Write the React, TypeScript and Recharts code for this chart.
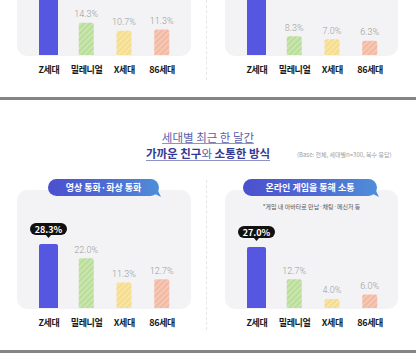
import React from "react";
import { BarChart, Bar, XAxis, YAxis, LabelList } from "recharts";

const generations = ["Z세대", "밀레니얼", "X세대", "86세대"];
// top row: the Z bars run off the top of the picture, their values are guesses
const topLeftValues = [36.0, 14.3, 10.7, 11.3];
const topRightValues = [30.0, 8.3, 7.0, 6.3];
const videoCallValues = [28.3, 22.0, 11.3, 12.7];
const onlineGameValues = [27.0, 12.7, 4.0, 6.0];

const barFills = ["#5557e0", "url(#stripe-green)", "url(#stripe-yellow)", "url(#stripe-salmon)"];

const FONT = '"Noto Sans CJK KR", "Noto Sans", sans-serif';
const CHART_W = 208;
const CHART_H = 170;
const PLOT_BOTTOM = 138; // margin.top + plot height inside the chart

const toRows = (values: number[]) => generations.map((name, i) => ({ name, value: values[i] }));

function BarShape(props: any) {
  const { x, y, width, height, index } = props;
  const w = index === 0 ? 19 : width;
  const nx = x + (width - w) / 2;
  const r = Math.min(2, height);
  const d = `M${nx},${y + height} L${nx},${y + r} Q${nx},${y} ${nx + r},${y} L${nx + w - r},${y} Q${nx + w},${y} ${nx + w},${y + r} L${nx + w},${y + height} Z`;
  return <path d={d} fill={barFills[index]} />;
}

function ValueLabel(props: any) {
  const { x, y, width, value, index, cropped } = props;
  const cx = x + width / 2;
  const text = `${Number(value).toFixed(1)}%`;
  if (index === 0) {
    // the Z bubble of the cropped top row lies above the picture
    if (cropped) return null;
    return (
      <g>
        <rect x={cx - 18.5} y={y - 21} width={37} height={12} rx={6} fill="#111" />
        <polygon points={`${cx - 3},${y - 9.5} ${cx + 3},${y - 9.5} ${cx},${y - 6}`} fill="#111" />
        <text x={cx} y={y - 14.6} textAnchor="middle" dominantBaseline="central" fontSize={9} fontWeight={700} fill="#fff" fontFamily={FONT}>
          {text}
        </text>
      </g>
    );
  }
  return (
    <text x={cx} y={y - 8.5} textAnchor="middle" dominantBaseline="central" fontSize={9} fontWeight={300} fill="#9a9a9a" fontFamily='Roboto, "Noto Sans", sans-serif'>
      {text}
    </text>
  );
}

function GenTick(props: any) {
  const { x, y, payload } = props;
  return (
    <text x={x} y={y + 14.5} textAnchor="middle" dominantBaseline="central" fontSize={9} fontWeight={700} letterSpacing={-0.4} fill="#1a1a1a" fontFamily={FONT}>
      {payload.value}
    </text>
  );
}

function GenChart({ values, left, top, cropped = false }: { values: number[]; left: number; top: number; cropped?: boolean }) {
  return (
    <div style={{ position: "absolute", left, top, width: CHART_W, height: CHART_H }}>
      <BarChart width={CHART_W} height={CHART_H} data={toRows(values)} margin={{ top: 25, right: 27, bottom: 12, left: 30 }}>
        <XAxis dataKey="name" height={20} axisLine={false} tickLine={false} tickSize={0} tickMargin={0} interval={0} tick={<GenTick />} />
        <YAxis hide domain={[0, 50]} />
        <Bar dataKey="value" barSize={15} shape={<BarShape />} isAnimationActive={false}>
          <LabelList dataKey="value" content={<ValueLabel cropped={cropped} />} />
        </Bar>
      </BarChart>
    </div>
  );
}

function Panel({ left, top, width, height }: { left: number; top: number; width: number; height: number }) {
  return <div style={{ position: "absolute", left, top, width, height, background: "#f3f3f5", borderRadius: 10 }} />;
}

function Pill({ left, width, label }: { left: number; width: number; label: string }) {
  return (
    <>
      <div
        style={{
          position: "absolute",
          left: left + width - 10,
          top: 187,
          width: 12,
          height: 10,
          background: "#4f8ed8",
          clipPath: "polygon(0 0, 60% 0, 100% 100%, 0 40%)",
        }}
      />
      <div
        style={{
          position: "absolute",
          left,
          top: 179,
          width,
          height: 17,
          borderRadius: 9,
          background: "linear-gradient(90deg, #4b50cf 0%, #4e6fd4 60%, #4f8ed8 100%)",
          color: "#fff",
          fontSize: 9,
          fontWeight: 700,
          lineHeight: "17px",
          textAlign: "center",
          fontFamily: FONT,
        }}
      >
        {label}
      </div>
    </>
  );
}

export default function App() {
  return (
    <div style={{ position: "absolute", left: 0, top: 0, width: 416, height: 362, overflow: "hidden", background: "#fff", fontFamily: FONT }}>
      <svg width={0} height={0} style={{ position: "absolute" }}>
        <defs>
          <pattern id="stripe-green" patternUnits="userSpaceOnUse" width={4} height={4} patternTransform="rotate(45)">
            <rect width={4} height={4} fill="#b9dd99" />
            <rect width={1.6} height={4} fill="#cde8b4" />
          </pattern>
          <pattern id="stripe-yellow" patternUnits="userSpaceOnUse" width={4} height={4} patternTransform="rotate(45)">
            <rect width={4} height={4} fill="#f5dc8a" />
            <rect width={1.6} height={4} fill="#f9e7ae" />
          </pattern>
          <pattern id="stripe-salmon" patternUnits="userSpaceOnUse" width={4} height={4} patternTransform="rotate(45)">
            <rect width={4} height={4} fill="#f2b9a2" />
            <rect width={1.6} height={4} fill="#f7ccbb" />
          </pattern>
        </defs>
      </svg>

      {/* top row, cut off by the picture edge */}
      <Panel left={17} top={-60} width={174} height={116} />
      <Panel left={225} top={-60} width={173} height={116} />
      <div style={{ position: "absolute", left: 206, top: 0, height: 80, borderLeft: "1px dashed #e6e6e6" }} />
      <GenChart values={topLeftValues} left={0} top={55 - PLOT_BOTTOM} cropped />
      <GenChart values={topRightValues} left={208} top={55 - PLOT_BOTTOM} cropped />
      <div style={{ position: "absolute", left: 0, top: 97, width: 416, height: 3, background: "#858585" }} />

      {/* title */}
      <div style={{ position: "absolute", left: 0, top: 123, width: 416, textAlign: "center" }}>
        <span style={{ display: "inline-block", fontSize: 11.5, lineHeight: "12px", color: "#5a5fae", borderBottom: "1px solid #8e93c6" }}>
          세대별 최근 한 달간
        </span>
      </div>
      <div style={{ position: "absolute", left: 0, top: 139, width: 416, textAlign: "center" }}>
        <span style={{ display: "inline-block", fontSize: 11.5, lineHeight: "14px", color: "#343a94", fontWeight: 700, borderBottom: "1.3px solid #8e93c6" }}>
          가까운 친구<span style={{ fontWeight: 400, color: "#5a5fae" }}>와</span> 소통한 방식
        </span>
      </div>
      <div style={{ position: "absolute", left: 297, top: 151, fontSize: 6, lineHeight: "8px", color: "#a0a0a0", whiteSpace: "nowrap" }}>
        (Base: 전체, 세대별n=300, 복수 응답)
      </div>

      {/* bottom row */}
      <Panel left={17} top={190} width={174} height={119} />
      <Panel left={225} top={190} width={173} height={119} />
      <div style={{ position: "absolute", left: 206, top: 180, height: 150, borderLeft: "1px dashed #e6e6e6" }} />
      <Pill left={48} width={111} label="영상 통화·화상 통화" />
      <Pill left={243} width={134} label="온라인 게임을 통해 소통" />
      <div style={{ position: "absolute", left: 225, top: 203, width: 173, textAlign: "center", fontSize: 6, lineHeight: "8px", color: "#555" }}>
        *게임 내 아바타로 만남·채팅·메신저 등
      </div>
      <GenChart values={videoCallValues} left={0} top={308 - PLOT_BOTTOM} />
      <GenChart values={onlineGameValues} left={208} top={308 - PLOT_BOTTOM} />
      <div style={{ position: "absolute", left: 0, top: 350, width: 416, height: 3, background: "#858585" }} />
    </div>
  );
}
